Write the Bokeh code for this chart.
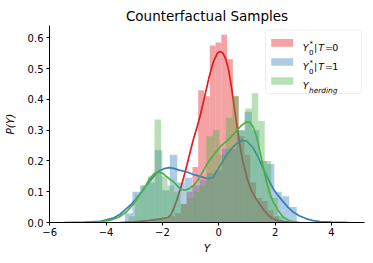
import numpy as np
from bokeh.plotting import figure
from bokeh.models import Range1d, FixedTicker, Label, BoxAnnotation
from bokeh.embed import file_html
from bokeh.resources import INLINE

# ---------------- data ----------------
# histogram densities: first bin edge, bin width, bar heights
t0_bin_start = -2.37
t0_bin_width = 0.205
t0_hist = [0.01, 0.015, 0.01, 0.02, 0.03, 0.06, 0.10, 0.18, 0.43, 0.41, 0.575,
           0.585, 0.61, 0.53, 0.41, 0.28, 0.22, 0.13, 0.08, 0.07, 0.04, 0.02]

t1_bin_start = -3.33
t1_bin_width = 0.265
t1_hist = [0.03, 0.10, 0.12, 0.13, 0.235, 0.105, 0.22, 0.13, 0.145, 0.12, 0.14,
           0.16, 0.17, 0.24, 0.24, 0.30, 0.36, 0.30, 0.20, 0.19, 0.10, 0.085, 0.05]

herd_bin_start = -3.20
herd_bin_width = 0.23
herd_hist = [0.02, 0.09, 0.12, 0.15, 0.335, 0.15, 0.12, 0.10, 0.06, 0.08, 0.10,
             0.12, 0.28, 0.30, 0.22, 0.34, 0.41, 0.30, 0.37, 0.42, 0.33, 0.20, 0.08, 0.02]

# KDE curves
t0_kde_x = [-3.5, -3.0, -2.5, -2.2, -2.0, -1.8, -1.7, -1.6, -1.5, -1.36, -1.25, -1.13,
            -1.0, -0.89, -0.77, -0.65, -0.5, -0.35, -0.2, -0.05, 0.05, 0.15, 0.25, 0.35,
            0.45, 0.55, 0.65, 0.75, 0.85, 1.0, 1.15, 1.3, 1.45, 1.6, 1.75, 1.9, 2.05, 2.3, 2.6]
t0_kde_y = [0.0, 0.002, 0.006, 0.010, 0.013, 0.016, 0.025, 0.045, 0.07, 0.11, 0.145, 0.187,
            0.235, 0.274, 0.31, 0.351, 0.41, 0.47, 0.52, 0.55, 0.556, 0.55, 0.53, 0.495,
            0.44, 0.375, 0.31, 0.25, 0.2, 0.145, 0.105, 0.08, 0.06, 0.04, 0.025, 0.013, 0.007, 0.003, 0.0]

t1_kde_x = [-5.5, -4.7, -4.2, -3.75, -3.5, -3.28, -3.1, -2.92, -2.75, -2.57, -2.4, -2.21,
            -2.07, -1.9, -1.75, -1.6, -1.4, -1.13, -0.9, -0.65, -0.4, -0.2, 0.06, 0.25,
            0.45, 0.65, 0.83, 1.0, 1.22, 1.4, 1.57, 1.75, 1.93, 2.1, 2.29, 2.45, 2.64,
            2.85, 3.11, 3.35, 3.59, 4.0, 4.65]
t1_kde_y = [0.0, 0.001, 0.004, 0.014, 0.027, 0.045, 0.06, 0.078, 0.098, 0.12, 0.14, 0.16,
            0.17, 0.176, 0.178, 0.176, 0.17, 0.164, 0.156, 0.149, 0.143, 0.146, 0.187, 0.215,
            0.24, 0.258, 0.267, 0.264, 0.242, 0.212, 0.176, 0.142, 0.11, 0.088, 0.067, 0.05,
            0.034, 0.022, 0.012, 0.006, 0.003, 0.001, 0.0]

herd_kde_x = [-4.82, -4.3, -3.87, -3.55, -3.28, -3.05, -2.81, -2.62, -2.45, -2.3, -2.16,
              -2.0, -1.86, -1.7, -1.6, -1.48, -1.36, -1.2, -1.05, -0.89, -0.72, -0.54,
              -0.36, -0.18, 0.06, 0.25, 0.45, 0.65, 0.8, 0.98, 1.1, 1.22, 1.34, 1.46,
              1.58, 1.69, 1.81, 1.93, 2.1, 2.29, 2.5, 2.64, 2.88]
herd_kde_y = [0.0, 0.002, 0.007, 0.017, 0.034, 0.058, 0.089, 0.115, 0.143, 0.158, 0.165,
              0.16, 0.15, 0.138, 0.132, 0.12, 0.108, 0.105, 0.11, 0.121, 0.14, 0.17,
              0.198, 0.22, 0.247, 0.262, 0.28, 0.3, 0.315, 0.327, 0.325, 0.31, 0.28, 0.23,
              0.178, 0.132, 0.095, 0.067, 0.04, 0.017, 0.006, 0.003, 0.0]

x_ticks = [-6, -4, -2, 0, 2, 4]
x_tick_labels = ["\u22126", "\u22124", "\u22122", "0", "2", "4"]
y_ticks = [0.0, 0.1, 0.2, 0.3, 0.4, 0.5, 0.6]
y_tick_labels = ["0.0", "0.1", "0.2", "0.3", "0.4", "0.5", "0.6"]

title_text = "Counterfactual Samples"
x_label = "Y"
y_label = "P(Y)"

RED, BLUE, GREEN = "#e41a1c", "#377eb8", "#4daf4a"
FONT = "DejaVu Sans"

# ---------------- figure ----------------
p = figure(width=373, height=263, output_backend="svg", toolbar_location=None,
           x_range=Range1d(-6.007, 5.17), y_range=Range1d(0, 0.64),
           min_border_left=49, min_border_right=9, min_border_top=25, min_border_bottom=41)
p.outline_line_color = None
p.grid.visible = False
p.background_fill_color = "white"
p.border_fill_color = "white"

p.title.text = title_text
p.title.align = "center"
p.title.text_font = FONT
p.title.text_font_size = "13.5px"
p.title.text_font_style = "normal"
p.title.text_color = "black"
p.title.standoff = 4


def edges(start, width, n):
    e = start + width * np.arange(n + 1)
    return e[:-1], e[1:]


def draw(start, width, heights, kx, ky, color):
    l, r = edges(start, width, len(heights))
    p.quad(left=l, right=r, bottom=0, top=heights, fill_color=color,
           fill_alpha=0.4, line_color=None)
    p.line(kx, ky, line_color=color, line_width=1.7)


draw(t0_bin_start, t0_bin_width, t0_hist, t0_kde_x, t0_kde_y, RED)
draw(t1_bin_start, t1_bin_width, t1_hist, t1_kde_x, t1_kde_y, BLUE)
draw(herd_bin_start, herd_bin_width, herd_hist, herd_kde_x, herd_kde_y, GREEN)

for ax, ticks, labels in ((p.xaxis, x_ticks, x_tick_labels), (p.yaxis, y_ticks, y_tick_labels)):
    ax.ticker = FixedTicker(ticks=ticks)
    ax.major_label_overrides = {t: s for t, s in zip(ticks, labels)}
    ax.minor_tick_line_color = None
    ax.major_tick_in = 0
    ax.major_tick_out = 3
    ax.axis_line_color = "black"
    ax.major_tick_line_color = "black"
    ax.major_label_text_font = FONT
    ax.major_label_text_font_size = "10px"
    ax.major_label_text_color = "black"
    ax.axis_label_text_font = FONT
    ax.axis_label_text_font_size = "10.5px"
    ax.axis_label_text_font_style = "italic"
    ax.axis_label_text_color = "black"

p.xaxis.axis_label = x_label
p.yaxis.axis_label = y_label
p.xaxis.major_label_standoff = 2
p.xaxis.axis_label_standoff = 3
p.yaxis.major_label_standoff = 3
p.yaxis.axis_label_standoff = 9

# ---------------- legend (screen units, relative to frame) ----------------
p.add_layout(BoxAnnotation(left=216, right=312, top=192.4, bottom=129,
                           left_units="screen", right_units="screen",
                           top_units="screen", bottom_units="screen",
                           fill_color="white", fill_alpha=0.8,
                           line_color="#c8c8c8", line_width=1, border_radius=3))

row_gap = 19.05
for i, c in enumerate((RED, BLUE, GREEN)):
    top = 183.4 - i * row_gap
    p.add_layout(BoxAnnotation(left=221.7, right=243.7, top=top, bottom=top - 7.6,
                               left_units="screen", right_units="screen",
                               top_units="screen", bottom_units="screen",
                               fill_color=c, fill_alpha=0.4, line_color=None))


def lab(x, y, text, size=9.5, style="normal", align="left"):
    p.add_layout(Label(x=x, y=y, x_units="screen", y_units="screen", text=text,
                       text_font=FONT, text_font_size=f"{size}px", text_font_style=style,
                       text_align=align, text_baseline="alphabetic", text_color="black"))


for i, tv in enumerate(("0", "1")):
    b = 175.0 - i * row_gap
    lab(253.2, b, "Y", style="italic")
    lab(259.4, b - 4.3, "0", size=7)
    lab(259.9, b + 3.2, "*", size=7)
    lab(266.0, b, "|", align="center")
    lab(268.8, b, "T", style="italic")
    lab(275.4, b, "=")
    lab(282.7, b, tv)

b3 = 175.0 - 2 * row_gap
lab(253.2, b3, "Y", style="italic")
lab(259.6, b3 - 4.6, "herding", size=7.4, style="italic")

open("out.html", "w").write(file_html(p, INLINE))
